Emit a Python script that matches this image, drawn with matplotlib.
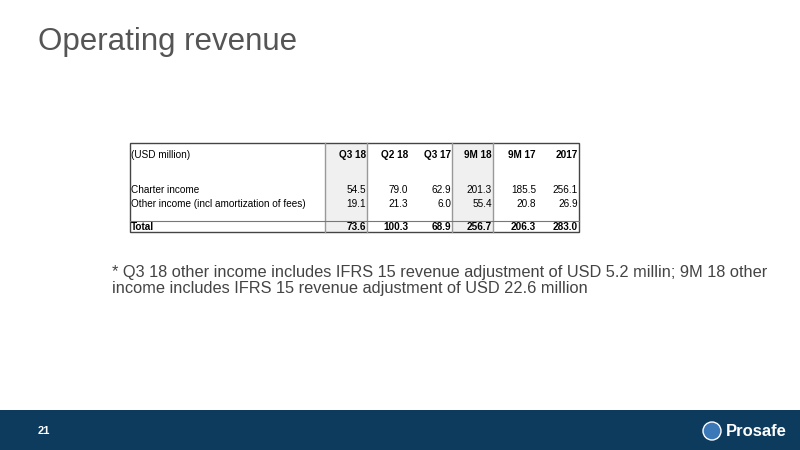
import matplotlib.pyplot as plt
from matplotlib.patches import Rectangle, Circle

plt.rcParams['font.family'] = ['Liberation Sans', 'DejaVu Sans']

columns = ['Q3 18', 'Q2 18', 'Q3 17', '9M 18', '9M 17', '2017']
row_labels = ['Charter income', 'Other income (incl amortization of fees)', 'Total']
charter = [54.5, 79.0, 62.9, 201.3, 185.5, 256.1]
other = [19.1, 21.3, 6.0, 55.4, 20.8, 26.9]
total = [73.6, 100.3, 68.9, 256.7, 206.3, 283.0]

fig = plt.figure(figsize=(8, 4.5), dpi=100)
ax = fig.add_axes([0, 0, 1, 1])
ax.set_xlim(0, 800)
ax.set_ylim(450, 0)
ax.axis('off')

# title
ax.text(38, 42, 'Operating revenue', fontsize=22.5, color='#555555', va='center', ha='left')

# table geometry (pixels)
left, right, top, bottom = 130, 579, 143, 232
col_edges = [325, 367, 409, 452, 493, 537, 579]
shaded = [0, 3]
for i in shaded:
    ax.add_patch(Rectangle((col_edges[i], top), col_edges[i+1] - col_edges[i], bottom - top,
                           facecolor='#f0f0f0', edgecolor='none'))
ax.add_patch(Rectangle((left, top), right - left, bottom - top, facecolor='none', edgecolor='#444444', lw=1))
for x in [325, 367, 452, 493]:
    ax.plot([x, x], [top, bottom], color='#999999', lw=1)
ax.plot([left, right], [221, 221], color='#777777', lw=0.8)

fs = 7.2
ax.text(left + 1, 155, '(USD million)', fontsize=fs, va='center')
for j, c in enumerate(columns):
    ax.text(col_edges[j+1] - 1, 155, c, fontsize=fs, fontweight='bold', va='center', ha='right')
rows = [(190, charter, 'normal'), (204, other, 'normal'), (227, total, 'bold')]
for (y, vals, w), lab in zip(rows, row_labels):
    ax.text(left + 1, y, lab, fontsize=fs, fontweight=w, va='center')
    for j, v in enumerate(vals):
        ax.text(col_edges[j+1] - 1, y, f'{v:.1f}', fontsize=fs, fontweight=w, va='center', ha='right')

# footnote
ax.text(112, 273, '* Q3 18 other income includes IFRS 15 revenue adjustment of USD 5.2 millin; 9M 18 other',
        fontsize=11.8, color='#444444', va='center')
ax.text(112, 289, 'income includes IFRS 15 revenue adjustment of USD 22.6 million',
        fontsize=11.8, color='#444444', va='center')

# footer band
ax.add_patch(Rectangle((0, 410), 800, 40, facecolor='#0d3b5e', edgecolor='none'))
ax.text(38, 431, '21', fontsize=8, color='white', va='center', fontweight='bold')
ax.add_patch(Circle((712, 431), 9, facecolor='#3a78b8', edgecolor='white', lw=1))
ax.text(726, 431, 'Prosafe', fontsize=12, color='white', fontweight='bold', va='center')

fig.savefig('out.png', dpi=100)
